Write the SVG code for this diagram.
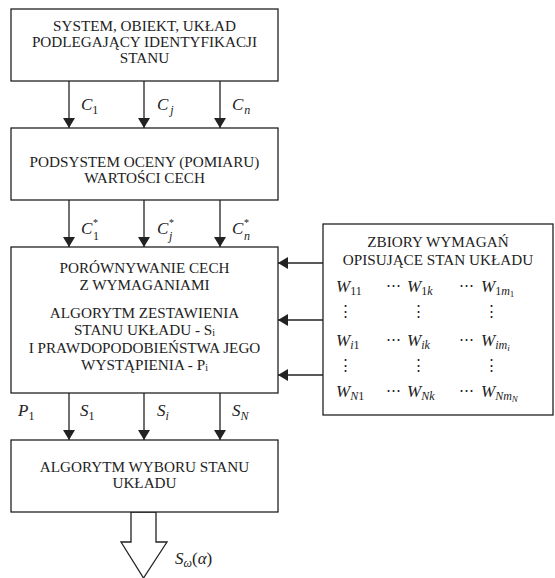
<svg xmlns="http://www.w3.org/2000/svg" width="555" height="578" viewBox="0 0 555 578">
<style>
.box{fill:#fff;stroke:#222;stroke-width:1.3}
text{font-family:'Liberation Serif','DejaVu Serif',serif}
.t{font-size:15.2px;fill:#222;text-anchor:middle}
.l{font-size:17px;font-style:italic;fill:#222}
.r{font-style:normal}
.s{font-size:12px}
.si{font-size:10px}
.ss{font-size:9px}
.ln{stroke:#222;stroke-width:1.3;fill:none}
.dots{font-size:15px;fill:#222}
</style>
<defs>
<marker id="ah" viewBox="0 0 10 12" refX="10" refY="6" markerWidth="10" markerHeight="12" markerUnits="userSpaceOnUse" orient="auto">
<path d="M0,0 L10,6 L0,12 Z" fill="#222"/>
</marker>
</defs>
<rect width="555" height="578" fill="#fff"/>
<g id="connectors">
<line class="ln" x1="69" y1="81" x2="69" y2="128" marker-end="url(#ah)"/>
<line class="ln" x1="144" y1="81" x2="144" y2="128" marker-end="url(#ah)"/>
<line class="ln" x1="220" y1="81" x2="220" y2="128" marker-end="url(#ah)"/>
<line class="ln" x1="69" y1="200" x2="69" y2="247" marker-end="url(#ah)"/>
<line class="ln" x1="144" y1="200" x2="144" y2="247" marker-end="url(#ah)"/>
<line class="ln" x1="220" y1="200" x2="220" y2="247" marker-end="url(#ah)"/>
<line class="ln" x1="69" y1="393" x2="69" y2="440" marker-end="url(#ah)"/>
<line class="ln" x1="144" y1="393" x2="144" y2="440" marker-end="url(#ah)"/>
<line class="ln" x1="220" y1="393" x2="220" y2="440" marker-end="url(#ah)"/>
<line class="ln" x1="323" y1="263" x2="278" y2="263" marker-end="url(#ah)"/>
<line class="ln" x1="323" y1="320" x2="278" y2="320" marker-end="url(#ah)"/>
<line class="ln" x1="323" y1="375" x2="278" y2="375" marker-end="url(#ah)"/>
<polygon class="box" points="131,512 156,512 156,542 167,542 143.5,578 121,542 131,542"/>
<text class="l" x="81" y="110">C<tspan class="r s" dy="4">1</tspan></text>
<text class="l" x="157" y="110">C<tspan class="s" dy="4" dx="2">j</tspan></text>
<text class="l" x="232" y="110">C<tspan class="s" dy="4" dx="1">n</tspan></text>
<text class="l" x="81" y="234">C<tspan class="r si" x="93" dy="-8">*</tspan><tspan class="r s" x="93" dy="14">1</tspan></text>
<text class="l" x="157" y="234">C<tspan class="r si" x="169" dy="-8">*</tspan><tspan class="s" x="169" dy="14">j</tspan></text>
<text class="l" x="232" y="234">C<tspan class="r si" x="244" dy="-8">*</tspan><tspan class="s" x="244" dy="14">n</tspan></text>
<text class="l" x="18" y="416">P<tspan class="r s" dy="4">1</tspan></text>
<text class="l" x="80" y="416">S<tspan class="r s" dy="4">1</tspan></text>
<text class="l" x="157" y="416">S<tspan class="s" dy="4">i</tspan></text>
<text class="l" x="232" y="416">S<tspan class="s" dy="4">N</tspan></text>
<text class="l" x="175" y="564">S<tspan class="s" dy="3">ω</tspan><tspan class="r" dy="-3">(</tspan>α<tspan class="r">)</tspan></text>
</g>
<g id="n1">
<rect class="box" x="11" y="9" width="267" height="72"/>
<text class="t" x="144.5" y="31">SYSTEM, OBIEKT, UKŁAD</text>
<text class="t" x="144.5" y="47">PODLEGAJĄCY IDENTYFIKACJI</text>
<text class="t" x="144.5" y="63">STANU</text>
</g>
<g id="n2">
<rect class="box" x="11" y="128" width="267" height="72"/>
<text class="t" x="144.5" y="167">PODSYSTEM OCENY (POMIARU)</text>
<text class="t" x="144.5" y="183">WARTOŚCI CECH</text>
</g>
<g id="n3">
<rect class="box" x="11" y="247" width="267" height="146"/>
<text class="t" x="144.5" y="273">PORÓWNYWANIE CECH</text>
<text class="t" x="144.5" y="290">Z WYMAGANIAMI</text>
<text class="t" x="144.5" y="318">ALGORYTM ZESTAWIENIA</text>
<text class="t" x="144.5" y="335">STANU UKŁADU - S<tspan class="si" dy="1">i</tspan></text>
<text class="t" x="144.5" y="353">I PRAWDOPODOBIEŃSTWA JEGO</text>
<text class="t" x="144.5" y="370">WYSTĄPIENIA - P<tspan class="si" dy="1">i</tspan></text>
</g>
<g id="n4">
<rect class="box" x="11" y="440" width="267" height="72"/>
<text class="t" x="144.5" y="472">ALGORYTM WYBORU STANU</text>
<text class="t" x="144.5" y="488">UKŁADU</text>
</g>
<g id="n5">
<rect class="box" x="323" y="224" width="230" height="191"/>
<text class="t" x="438" y="247">ZBIORY WYMAGAŃ</text>
<text class="t" x="438" y="265">OPISUJĄCE STAN UKŁADU</text>
<text class="l" x="336" y="292">W<tspan class="r s" dy="3">11</tspan></text>
<text class="dots" x="386" y="290">⋯</text>
<text class="l" x="407" y="292">W<tspan class="r s" dy="3">1</tspan><tspan class="s">k</tspan></text>
<text class="dots" x="459" y="290">⋯</text>
<text class="l" x="481" y="292">W<tspan class="r s" dy="3">1</tspan><tspan class="s">m</tspan><tspan class="r ss" dy="2">1</tspan></text>
<text class="dots" x="338" y="316">⋮</text>
<text class="dots" x="411" y="316">⋮</text>
<text class="dots" x="484" y="316">⋮</text>
<text class="l" x="336" y="346">W<tspan class="s" dy="3">i</tspan><tspan class="r s">1</tspan></text>
<text class="dots" x="386" y="344">⋯</text>
<text class="l" x="407" y="346">W<tspan class="s" dy="3">ik</tspan></text>
<text class="dots" x="459" y="344">⋯</text>
<text class="l" x="481" y="346">W<tspan class="s" dy="3">im</tspan><tspan class="ss" dy="2">i</tspan></text>
<text class="dots" x="338" y="370">⋮</text>
<text class="dots" x="411" y="370">⋮</text>
<text class="dots" x="484" y="370">⋮</text>
<text class="l" x="336" y="397">W<tspan class="s" dy="3">N</tspan><tspan class="r s">1</tspan></text>
<text class="dots" x="386" y="395">⋯</text>
<text class="l" x="407" y="397">W<tspan class="s" dy="3">Nk</tspan></text>
<text class="dots" x="459" y="395">⋯</text>
<text class="l" x="481" y="397">W<tspan class="s" dy="3">Nm</tspan><tspan class="ss" dy="2">N</tspan></text>
</g>
</svg>
